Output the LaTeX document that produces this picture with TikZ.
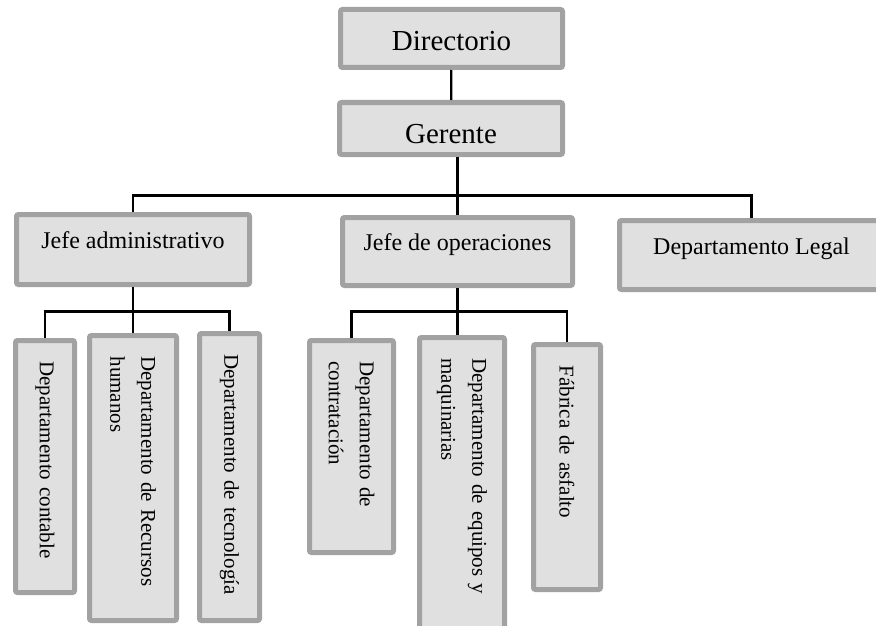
\documentclass[tikz,border=0pt]{standalone}
\usepackage{fontspec}
\setmainfont{Liberation Serif}
\usetikzlibrary{positioning}
\definecolor{boxfill}{HTML}{E0E0E0}
\definecolor{boxline}{HTML}{A2A2A2}
\tikzset{
  orgbox/.style={rectangle,draw=boxline,fill=boxfill,line width=5pt,rounded corners=2pt,inner sep=0pt},
  topbox/.style={orgbox,font=\fontsize{29}{33}\selectfont,text depth=0pt},
  midbox/.style={orgbox,font=\fontsize{24}{28}\selectfont,text height=17pt,text depth=19pt},
  deptbox/.style={orgbox,rotate=-90,font=\fontsize{21}{31}\selectfont,align=left,inner xsep=21pt},
  link/.style={line width=2.2pt,black}
}
\begin{document}
\begin{tikzpicture}[x=1pt,y=-1pt]
\useasboundingbox[fill=white](0,0)rectangle(876,626);
%top
\node[topbox,minimum width=222pt,minimum height=58pt,text height=25pt](dir)at(451.5,38.5){Directorio};
\node[topbox,minimum width=223pt,minimum height=52pt,text height=30pt](ger)at(451,128.5){Gerente};
%jefes
\node[midbox,minimum width=233pt,minimum height=70pt](jadm)at(133,249.5){Jefe administrativo};
\node[midbox,minimum width=230pt,minimum height=68pt](jop)at(457.5,251.5){Jefe de operaciones};
\node[midbox,minimum width=264pt,minimum height=69pt](legal)at(751.5,255){Departamento Legal};
%departamentos
\node[deptbox,text width=210pt,minimum height=59pt](cont)at(45,466.5){Departamento contable};
\node[deptbox,text width=243pt,minimum height=87pt](rrhh)at(133,478){Departamento de Recursos\\humanos};
\node[deptbox,text width=245pt,minimum height=60pt](tec)at(229.5,477){Departamento de tecnología};
\node[deptbox,text width=170pt,minimum height=84pt](contr)at(351.5,446.5){Departamento de\\contratación};
\node[deptbox,text width=258pt,minimum height=85pt](equi)at(462,487.5){Departamento de equipos y\\maquinarias};
\node[deptbox,text width=203pt,minimum height=67pt](fab)at(567,467){Fábrica de asfalto};
%lines
\draw[link](dir)--(ger);
\draw[link](ger.south -| jop.north)--(jop.north);
\draw[link](jadm.north)--++(0,-16.5)-|(legal.north);
\draw[link](jadm.south)--(rrhh.west);
\draw[link](cont.west)--++(0,-26.5)-|(tec.west);
\draw[link](jop.south)--(jop.south |- equi.west);
\draw[link](contr.west)--++(0,-26.5)-|(fab.west);
\end{tikzpicture}
\end{document}
